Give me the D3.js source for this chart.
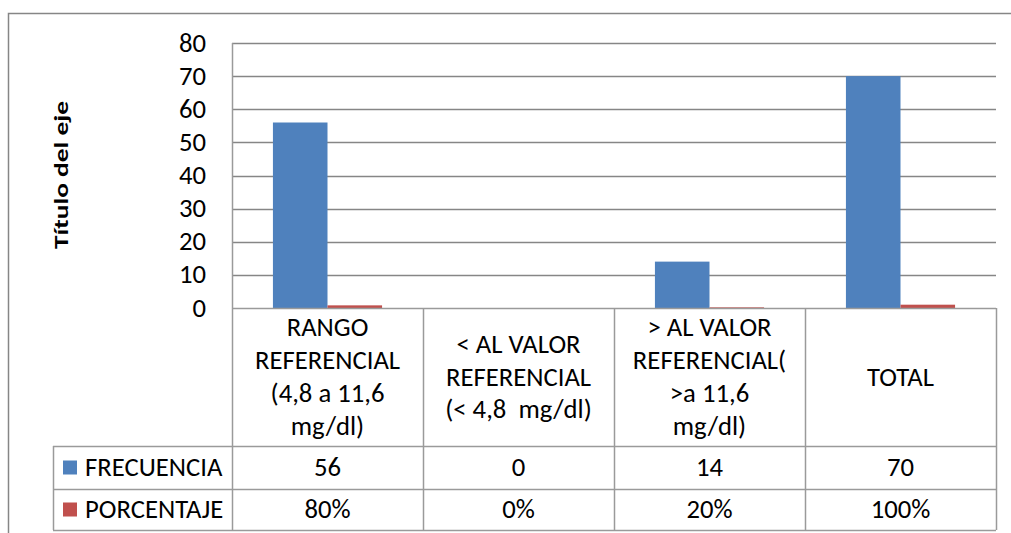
<!DOCTYPE html>
<html>
<head>
<meta charset="utf-8">
<script src="https://cdn.jsdelivr.net/npm/d3@7/dist/d3.min.js"></script>
<style>
  html, body { margin: 0; padding: 0; background: #fff; }
  svg { display: block; }
  text { font-family: Carlito, Calibri, "Open Sans", Lato, sans-serif; fill: #000; }
</style>
</head>
<body>
<svg id="chart" width="1011" height="533"></svg>
<script>
// Category labels, one entry per wrapped line
const categories = ["RANGO", "MENOR", "MAYOR", "TOTAL"];
const categoryLines = [
  ["RANGO", "REFERENCIAL", "(4,8 a 11,6", "mg/dl)"],
  ["< AL VALOR", "REFERENCIAL", "(< 4,8  mg/dl)"],
  ["> AL VALOR", "REFERENCIAL(", ">a 11,6", "mg/dl)"],
  ["TOTAL"]
];
const seriesNames = ["FRECUENCIA", "PORCENTAJE"];
const frecuencia = [56, 0, 14, 70];
const porcentaje = [0.80, 0.00, 0.20, 1.00];
const porcentajeLabels = ["80%", "0%", "20%", "100%"];
const yTicks = [0, 10, 20, 30, 40, 50, 60, 70, 80];
const seriesColors = ["#4F81BD", "#C0504D"];
const axisTitle = "Título del eje";

const svg = d3.select("#chart");
const gridColor = "#868686";
const tableColor = "#9a9a9a";
const fontSize = 26.7;

// Plot geometry
const plotLeft = 232, plotRight = 996, plotTop = 43, plotBase = 308;
const headerBottom = 446, row1Bottom = 489, row2Bottom = 530;
const legendLeft = 53;

// Outer frame
svg.append("rect")
  .attr("x", 8.5).attr("y", 13.5)
  .attr("width", 1100).attr("height", 600)
  .attr("fill", "none").attr("stroke", gridColor).attr("stroke-width", 1.5);

const y = d3.scaleLinear().domain([0, 80]).range([plotBase, plotTop]);
const x0 = d3.scaleBand().domain(categories).range([plotLeft, plotRight]).padding(0);
const x1 = d3.scaleBand().domain(seriesNames).range([0, x0.bandwidth()])
  .paddingInner(0).paddingOuter(0.75);

// Horizontal gridlines
svg.append("g").selectAll("line").data(yTicks.filter(d => d > 0)).join("line")
  .attr("x1", plotLeft).attr("x2", plotRight)
  .attr("y1", d => Math.round(y(d)) + 0.5).attr("y2", d => Math.round(y(d)) + 0.5)
  .attr("stroke", gridColor).attr("stroke-width", 1.5);

// Tick labels
svg.append("g").selectAll("text").data(yTicks).join("text")
  .attr("x", 206).attr("y", d => y(d))
  .attr("dy", "0.32em")
  .attr("text-anchor", "end")
  .attr("font-size", fontSize)
  .text(d => d);

// Axis title
svg.append("text")
  .attr("transform", "translate(68,175) rotate(-90)")
  .attr("text-anchor", "middle")
  .attr("font-size", 20)
  .attr("font-weight", "bold")
  .attr("textLength", 148)
  .attr("lengthAdjust", "spacingAndGlyphs")
  .text(axisTitle);

// Bars
const seriesData = [frecuencia, porcentaje];
seriesNames.forEach((name, si) => {
  svg.append("g").selectAll("rect").data(categories).join("rect")
    .attr("x", (c) => x0(c) + x1(name))
    .attr("width", x1.bandwidth())
    .attr("y", (c, i) => y(seriesData[si][i]))
    .attr("height", (c, i) => plotBase - y(seriesData[si][i]))
    .attr("fill", seriesColors[si]);
});

// Data table grid
const t = svg.append("g").attr("stroke", tableColor).attr("stroke-width", 1.5);
t.append("line").attr("x1", plotLeft).attr("x2", plotRight).attr("y1", plotBase + 0.5).attr("y2", plotBase + 0.5);
[headerBottom, row1Bottom, row2Bottom].forEach(yy => {
  t.append("line").attr("x1", legendLeft).attr("x2", plotRight).attr("y1", yy + 0.5).attr("y2", yy + 0.5);
});
t.append("line").attr("x1", plotLeft + 0.5).attr("x2", plotLeft + 0.5).attr("y1", plotTop).attr("y2", row2Bottom);
t.append("line").attr("x1", legendLeft + 0.5).attr("x2", legendLeft + 0.5).attr("y1", headerBottom).attr("y2", row2Bottom);
categories.forEach(c => {
  const xx = Math.round(x0(c) + x0.bandwidth()) + 0.5;
  t.append("line").attr("x1", xx).attr("x2", xx).attr("y1", plotBase).attr("y2", row2Bottom);
});

// Category header text
const headerMid = (plotBase + headerBottom) / 2;
const lineH = 32.7;
categories.forEach((c, i) => {
  const lines = categoryLines[i];
  svg.append("g").selectAll("text").data(lines).join("text")
    .attr("x", x0(c) + x0.bandwidth() / 2)
    .attr("y", (d, k) => headerMid + (k - (lines.length - 1) / 2) * lineH)
    .attr("dy", "0.32em")
    .attr("text-anchor", "middle")
    .attr("font-size", fontSize)
    .style("white-space", "pre")
    .text(d => d);
});

// Series rows: legend key, name and values
const rowMids = [(headerBottom + row1Bottom) / 2, (row1Bottom + row2Bottom) / 2];
const rowLabels = [frecuencia.map(String), porcentajeLabels];
seriesNames.forEach((name, si) => {
  const cy = rowMids[si];
  svg.append("rect")
    .attr("x", 63).attr("y", cy - 7).attr("width", 14).attr("height", 14)
    .attr("fill", seriesColors[si]);
  svg.append("text")
    .attr("x", 85).attr("y", cy).attr("dy", "0.32em")
    .attr("font-size", fontSize)
    .text(name);
  svg.append("g").selectAll("text").data(categories).join("text")
    .attr("x", c => x0(c) + x0.bandwidth() / 2)
    .attr("y", cy).attr("dy", "0.32em")
    .attr("text-anchor", "middle")
    .attr("font-size", fontSize)
    .text((c, i) => rowLabels[si][i]);
});
</script>
</body>
</html>
